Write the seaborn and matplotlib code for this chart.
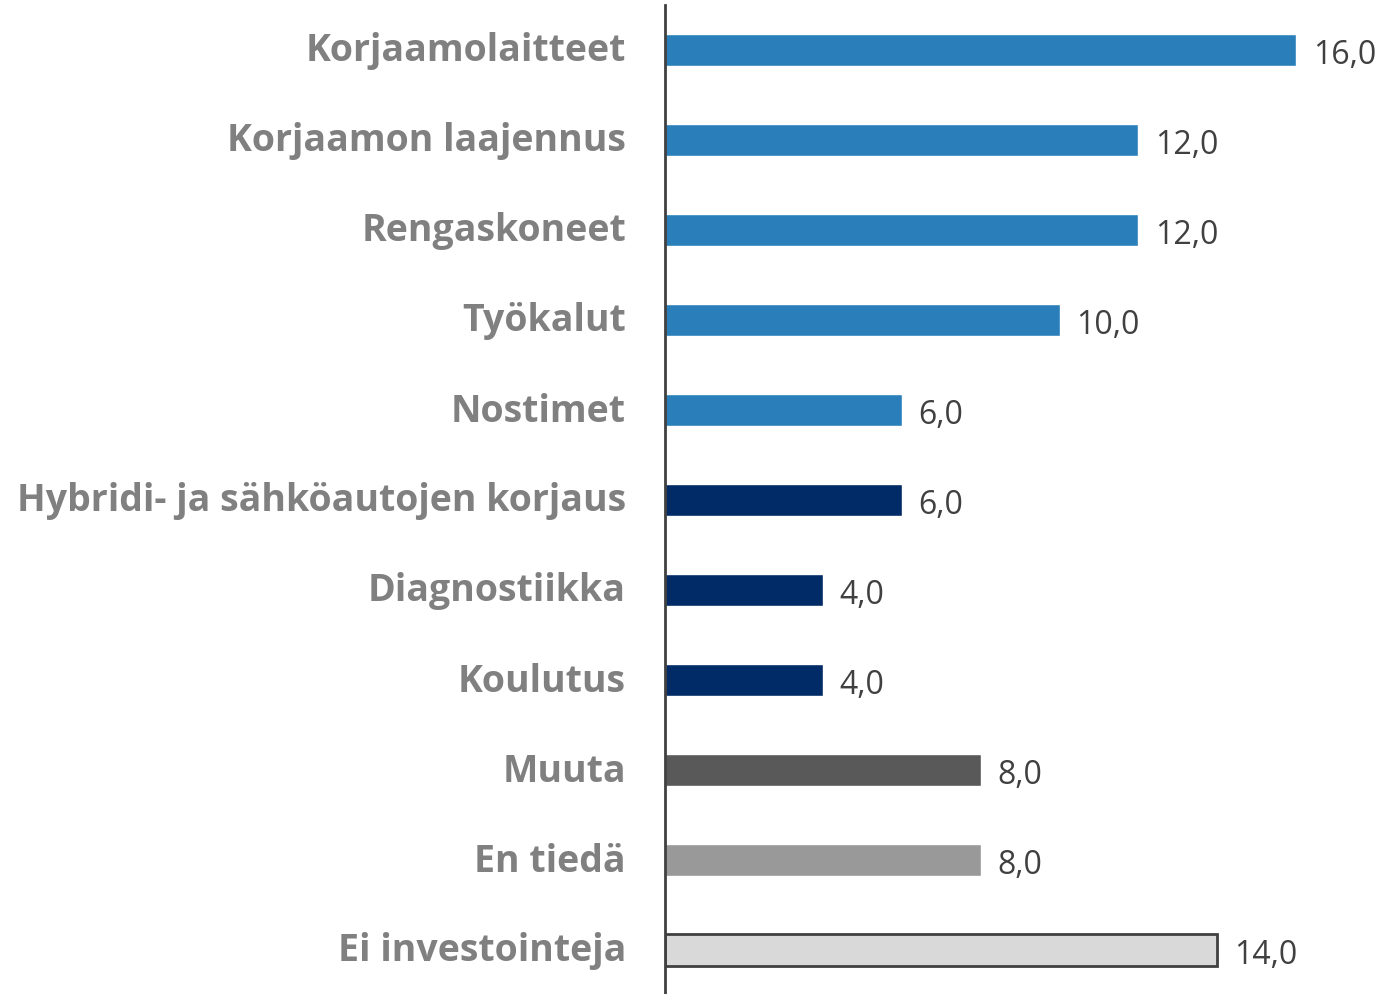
import pandas as pd
import numpy as np
import matplotlib.pyplot as plt
import matplotlib.transforms as mtransforms
import seaborn as sns

categories = ["Korjaamolaitteet", "Korjaamon laajennus", "Rengaskoneet", "Työkalut",
              "Nostimet", "Hybridi- ja sähköautojen korjaus", "Diagnostiikka",
              "Koulutus", "Muuta", "En tiedä", "Ei investointeja"]
values = [16.0, 12.0, 12.0, 10.0, 6.0, 6.0, 4.0, 4.0, 8.0, 8.0, 14.0]
bar_colors = ["#2a7fba"] * 5 + ["#002b66"] * 3 + ["#595959", "#999999", "#d9d9d9"]

df = pd.DataFrame({"category": categories, "value": values})

sns.set_style("white")
plt.rcParams['font.family'] = ['Open Sans', 'DejaVu Sans']

fig = plt.figure(figsize=(14, 9.94), dpi=100)
ax = fig.add_axes([665 / 1400, -1 / 994, 735 / 1400, 990 / 994])

sns.barplot(data=df, x="value", y="category", hue="category", palette=bar_colors,
            width=0.345, legend=False, ax=ax, saturation=1)

# outline only on the last bar
last = ax.patches[-1]
last.set_edgecolor("#404040")
last.set_linewidth(2)

for p, v in zip(ax.patches, values):
    ax.text(p.get_width() + 0.42, p.get_y() + p.get_height() / 2 + 0.02,
            f"{v:.1f}".replace(".", ","),
            va="center_baseline", ha="left", fontsize=23, color="#404040")

ax.set_xlim(0, 18.63)
ax.set_ylim(10.5, -0.5)
ax.set_xlabel("")
ax.set_ylabel("")
ax.set_xticks([])
ax.tick_params(axis="y", length=0, pad=28)
shift = mtransforms.ScaledTranslation(0, 3 / 100, fig.dpi_scale_trans)
for lbl in ax.get_yticklabels():
    lbl.set_fontsize(27)
    lbl.set_fontweight("bold")
    lbl.set_color("#808080")
    lbl.set_transform(lbl.get_transform() + shift)

sns.despine(ax=ax, top=True, right=True, bottom=True)
ax.spines["left"].set_color("#404040")
ax.spines["left"].set_linewidth(2)

fig.savefig("out.png", dpi=100)
